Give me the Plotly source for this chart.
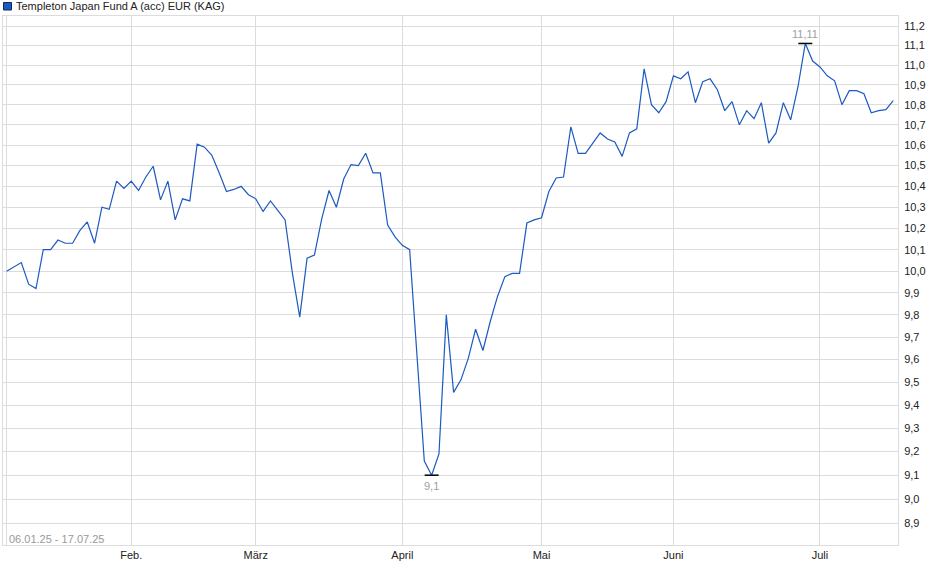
import numpy as np
import plotly.graph_objects as go

#------------------------------------------------------------
#                          DATA
#------------------------------------------------------------

# trading days per month (2025), as shown in the chart
days_jan = [6, 7, 8, 9, 10, 14, 15, 16, 17, 21, 22, 23, 24, 28, 29, 30, 31]
days_feb = [3, 4, 5, 6, 7, 10, 12, 13, 14, 18, 19, 20, 21, 25, 26, 27, 28]
days_mar = [3, 4, 5, 6, 7, 10, 11, 12, 13, 14, 17, 18, 19, 21, 24, 25, 26, 27, 28, 31]
days_apr = [1, 2, 3, 4, 7, 8, 9, 10, 11, 14, 15, 16, 17, 22, 23, 24, 25, 28, 30]
days_may = [2, 7, 8, 9, 12, 13, 14, 15, 16, 19, 20, 21, 22, 23, 26, 27, 28, 30]
days_jun = [2, 3, 4, 5, 6, 10, 11, 12, 13, 16, 17, 18, 19, 20, 23, 24, 25, 26, 27, 30]
days_jul = [1, 2, 3, 7, 8, 9, 10, 11, 15, 16, 17]

month_days = [days_jan, days_feb, days_mar, days_apr, days_may, days_jun, days_jul]
dates = ['2025-%02d-%02d' % (m + 1, d) for m, days in enumerate(month_days) for d in days]

# fund price (EUR)
prices = [
    10.00, 10.02, 10.04, 9.94, 9.92, 10.10, 10.10, 10.145, 10.13, 10.13,
    10.19, 10.23, 10.13, 10.30, 10.29, 10.425, 10.39, 10.425, 10.38, 10.445,
    10.497, 10.335, 10.425, 10.24, 10.34, 10.33, 10.605, 10.59, 10.55, 10.465,
    10.375, 10.385, 10.40, 10.36, 10.34, 10.28, 10.33, 10.285, 10.24, 9.99,
    9.79, 10.06, 10.075, 10.245, 10.38, 10.30, 10.435, 10.505, 10.50, 10.56,
    10.465, 10.465, 10.215, 10.16, 10.12, 10.10, 9.60, 9.16, 9.10, 9.19,
    9.80, 9.455, 9.51, 9.605, 9.735, 9.64, 9.77, 9.885, 9.975, 9.99,
    9.99, 10.225, 10.24, 10.25, 10.375, 10.44, 10.445, 10.69, 10.56, 10.56,
    10.61, 10.66, 10.63, 10.615, 10.545, 10.66, 10.68, 10.98, 10.80, 10.76,
    10.815, 10.945, 10.93, 10.965, 10.81, 10.915, 10.93, 10.875, 10.77, 10.815,
    10.70, 10.77, 10.73, 10.81, 10.61, 10.66, 10.81, 10.725, 10.89, 11.11,
    11.02, 10.99, 10.945, 10.92, 10.80, 10.87, 10.87, 10.855, 10.76, 10.77,
    10.775, 10.82,
]

month_labels = ['Feb.', 'März', 'April', 'Mai', 'Juni', 'Juli']
y_ticks = [8.9, 9.0, 9.1, 9.2, 9.3, 9.4, 9.5, 9.6, 9.7, 9.8, 9.9, 10.0,
           10.1, 10.2, 10.3, 10.4, 10.5, 10.6, 10.7, 10.8, 10.9, 11.0, 11.1, 11.2]

fund_name = 'Templeton Japan Fund A (acc) EUR (KAG)'

#------------------------------------------------------------
#                          PLOT
#------------------------------------------------------------

W, H = 940, 579
m_l, m_r, m_t, m_b = 3, 42, 16, 34
plot_w = W - m_l - m_r
plot_h = H - m_t - m_b

line_blue = '#1c5ac0'
grid = '#dcdcdc'
font = 'Liberation Sans, Arial, sans-serif'

def fmt(v):
    return ('%g' % v).replace('.', ',')

def fmt1(v):
    return ('%.1f' % v).replace('.', ',')

# first day of each month -> gridline position
month_starts = [dates[0]]
for days, m in zip(month_days[1:], range(2, 8)):
    month_starts.append('2025-%02d-%02d' % (m, days[0]))

i_max = int(np.argmax(prices))
i_min = int(np.argmin(prices))

fig = go.Figure()

fig.add_trace(go.Scatter(
    x=dates, y=prices, mode='lines',
    line=dict(color=line_blue, width=1.2),
    hoverinfo='x+y', showlegend=False))

# high / low markers
fig.add_trace(go.Scatter(
    x=[dates[i_max], dates[i_min]], y=[prices[i_max], prices[i_min]],
    mode='markers',
    marker=dict(symbol='line-ew', size=10, line=dict(color='black', width=1.5)),
    hoverinfo='skip', showlegend=False))

fig.add_annotation(x=dates[i_max], y=np.log10(prices[i_max]), text=fmt(prices[i_max]),
                   showarrow=False, yanchor='bottom', yshift=1,
                   font=dict(family=font, size=11, color='#a0a0a0'))
fig.add_annotation(x=dates[i_min], y=np.log10(prices[i_min]), text=fmt(prices[i_min]),
                   showarrow=False, yanchor='top', yshift=-3,
                   font=dict(family=font, size=11, color='#a0a0a0'))

# date range text, bottom left inside plot
fig.add_annotation(xref='paper', yref='paper', x=4 / plot_w, y=6 / plot_h,
                   xanchor='left', yanchor='middle', showarrow=False,
                   text='06.01.25 - 17.07.25',
                   font=dict(family=font, size=11, color='#999999'))

# legend (square + name), drawn by hand to get the compact look
fig.add_shape(type='rect', xref='paper', yref='paper',
              x0=0.5 / plot_w, x1=8.5 / plot_w,
              y0=1 + 6 / plot_h, y1=1 + 13.5 / plot_h,
              fillcolor=line_blue, line=dict(color='#0a2a60', width=1))
fig.add_annotation(xref='paper', yref='paper', x=11 / plot_w, y=1 + 10 / plot_h,
                   xanchor='left', yanchor='middle', showarrow=False, text=fund_name,
                   font=dict(family=font, size=11, color='#222222'))

fig.update_xaxes(
    type='category', range=[-0.5, len(dates) - 1 + 0.65],
    tickvals=month_starts, ticktext=[''] + month_labels,
    showgrid=True, gridcolor=grid, gridwidth=1,
    showline=True, linecolor=grid, mirror=True,
    ticks='', zeroline=False, automargin=False,
    tickfont=dict(family=font, size=11, color='#222222'))

fig.update_yaxes(
    type='log', side='right',
    range=[np.log10(8.811), np.log10(11.252)],
    tickvals=y_ticks, ticktext=[fmt1(v) for v in y_ticks],
    showgrid=True, gridcolor=grid, gridwidth=1,
    showline=True, linecolor=grid, mirror=True,
    ticks='', zeroline=False, automargin=False, ticklabelstandoff=3,
    tickfont=dict(family=font, size=11, color='#222222'))

fig.update_layout(
    width=W, height=H,
    margin=dict(l=m_l, r=m_r, t=m_t, b=m_b),
    paper_bgcolor='white', plot_bgcolor='white',
    showlegend=False,
    hovermode='closest')

# drop the browser's default page margin so the figure sits at (0, 0)
fig.write_html('out.html', config={'displayModeBar': False},
               post_script="document.body.style.margin = '0';")
